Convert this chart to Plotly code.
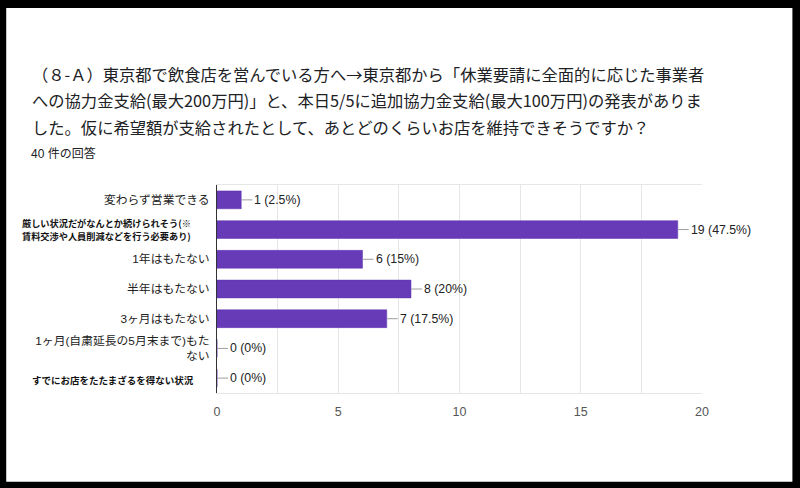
import plotly.graph_objects as go

# ---- data ----
categories = [
    "変わらず営業できる",
    "厳しい状況だがなんとか続けられそう(※賃料交渉や人員削減などを行う必要あり)",
    "1年はもたない",
    "半年はもたない",
    "3ヶ月はもたない",
    "1ヶ月(自粛延長の5月末まで)もたない",
    "すでにお店をたたまざるを得ない状況",
]
counts = [1, 19, 6, 8, 7, 0, 0]
total_responses = 40
x_ticks = [0, 5, 10, 15, 20]

title_lines = [
    "（８-Ａ）東京都で飲食店を営んでいる方へ→東京都から「休業要請に全面的に応じた事業者",
    "への協力金支給(最大200万円)」と、本日5/5に追加協力金支給(最大100万円)の発表がありま",
    "した。仮に希望額が支給されたとして、あとどのくらいお店を維持できそうですか？",
]
subtitle = f"{total_responses} 件の回答"

# tick labels shown on the axis (special ones drawn separately as smaller bold text)
tick_labels = [
    "変わらず営業できる",
    "",
    "1年はもたない",
    "半年はもたない",
    "3ヶ月はもたない",
    "1ヶ月(自粛延長の5月末まで)もた<br>ない",
    "",
]
special_label_2 = ["厳しい状況だがなんとか続けられそう(※", "賃料交渉や人員削減などを行う必要あり)"]
special_label_7 = "すでにお店をたたまざるを得ない状況"

# ---- layout geometry (pixels) ----
W, H = 800, 488
L, R, T, B = 217, 800 - 702.5, 184.5, 488 - 393
PW = W - L - R
PH = H - T - B


def px_x(px):
    return (px - L) / PW


def px_y(py):
    return (H - B - py) / PH


PURPLE = "#673ab7"
LATIN_CJK = "Arial, 'Liberation Sans', 'Noto Sans CJK JP', sans-serif"
CJK = "'Noto Sans CJK JP', sans-serif"

fig = go.Figure()
fig.add_trace(go.Bar(
    x=counts,
    y=categories,
    orientation="h",
    marker=dict(color=PURPLE, line=dict(color="#5e35b1", width=0.5)),
    hoverinfo="skip",
))


def fmt_pct(v):
    p = v / total_responses * 100
    return f"{p:g}%"


annotations = []
for cat, v in zip(categories, counts):
    annotations.append(dict(
        x=v, y=cat, xref="x", yref="y",
        text=f"{v} ({fmt_pct(v)})",
        showarrow=True, arrowhead=0, arrowwidth=1, arrowcolor="#9e9e9e",
        ax=11, ay=0, standoff=0, xanchor="left",
        font=dict(family=LATIN_CJK, size=12.3, color="#222222"),
    ))

# special small bold labels
for i, line in enumerate(special_label_2):
    annotations.append(dict(
        x=px_x(21), y=categories[1], xref="paper", yref="y",
        text=f"<b>{line}</b>", showarrow=False, xanchor="left", yanchor="middle",
        yshift=6.4 - 12.8 * i, borderpad=0,
        font=dict(family=CJK, size=9.2, color="#111111"),
    ))
annotations.append(dict(
    x=px_x(196), y=categories[6], xref="paper", yref="y",
    text=f"<b>{special_label_7}</b>", showarrow=False, xanchor="right", yanchor="middle",
    yshift=-2,
    font=dict(family=CJK, size=9.5, color="#111111"),
))

# title lines
title_y = [73, 99, 126]
for line, ty in zip(title_lines, title_y):
    annotations.append(dict(
        x=px_x(30), y=px_y(ty), xref="paper", yref="paper",
        text=line, showarrow=False, xanchor="left", yanchor="middle",
        font=dict(family=CJK, size=16.3, color="#202124"),
    ))
annotations.append(dict(
    x=px_x(29), y=px_y(153), xref="paper", yref="paper",
    text=subtitle, showarrow=False, xanchor="left", yanchor="middle",
    font=dict(family=LATIN_CJK, size=12, color="#202124"),
))

fig.update_layout(
    width=W, height=H,
    margin=dict(l=L, r=R, t=T, b=B, pad=0),
    paper_bgcolor="black",
    plot_bgcolor="white",
    showlegend=False,
    bargap=0.4,
    annotations=annotations,
    shapes=[dict(
        type="rect", xref="paper", yref="paper", layer="below",
        x0=px_x(6), x1=px_x(793), y0=px_y(482), y1=px_y(7),
        fillcolor="white", line=dict(width=0),
    )],
)

fig.update_xaxes(
    range=[0, 20], tickmode="array", tickvals=x_ticks,
    showgrid=True, gridcolor="#e6e6e6", gridwidth=1,
    minor=dict(dtick=2.5, showgrid=True, gridcolor="#e6e6e6", gridwidth=1),
    zeroline=False, showline=True, mirror=True, linecolor="#e6e6e6", linewidth=1,
    ticks="", ticklabelstandoff=7,
    tickfont=dict(family=LATIN_CJK, size=12.5, color="#555555"),
    fixedrange=True,
)
shown = [(c, t) for c, t in zip(categories, tick_labels) if t]
fig.update_yaxes(
    autorange="reversed", tickmode="array",
    tickvals=[c for c, _ in shown], ticktext=[t for _, t in shown],
    showgrid=False, zeroline=False, showline=True, linecolor="#333333", linewidth=1,
    ticks="", ticklabelstandoff=4,
    tickfont=dict(family=LATIN_CJK, size=11.8, color="#222222"),
    fixedrange=True,
)

fig.write_html(
    "out.html",
    config={"displayModeBar": False},
    post_script="document.body.style.margin='0';document.body.style.padding='0';"
                "document.body.style.background='black';document.body.style.overflow='hidden';",
)
